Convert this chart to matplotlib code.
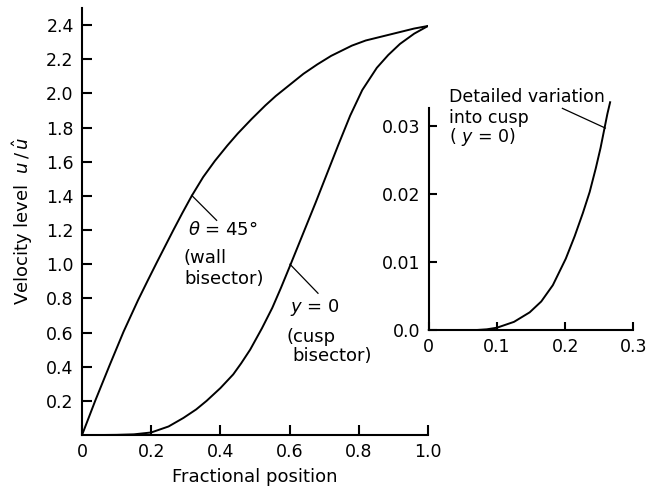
import numpy as np
import matplotlib as mpl

mpl.use("Agg")
import matplotlib.pyplot as plt

# wall bisector, theta = 45 deg
wall_x = [0.0, 0.02, 0.038, 0.08, 0.12, 0.162, 0.19, 0.216, 0.24, 0.264, 0.29, 0.317,
          0.35, 0.384, 0.42, 0.45, 0.49, 0.53, 0.56, 0.60, 0.64, 0.68, 0.72, 0.75,
          0.78, 0.82, 0.86, 0.89, 0.93, 0.96, 1.0]
wall_y = [0.0, 0.105, 0.20, 0.41, 0.605, 0.79, 0.905, 1.01, 1.105, 1.20, 1.30, 1.40,
          1.51, 1.605, 1.695, 1.765, 1.85, 1.93, 1.985, 2.05, 2.115, 2.17, 2.22, 2.25,
          2.28, 2.31, 2.33, 2.345, 2.365, 2.38, 2.395]

# cusp bisector, y = 0
cusp_x = [0.0, 0.05, 0.10, 0.15, 0.20, 0.25, 0.293, 0.33, 0.36, 0.40, 0.437, 0.46,
          0.486, 0.52, 0.55, 0.575, 0.601, 0.625, 0.645, 0.675, 0.707, 0.74, 0.775,
          0.81, 0.852, 0.885, 0.919, 0.96, 1.0]
cusp_y = [0.0, 0.0, 0.001, 0.004, 0.015, 0.05, 0.10, 0.15, 0.20, 0.275, 0.355, 0.42,
          0.50, 0.625, 0.745, 0.862, 0.99, 1.11, 1.21, 1.36, 1.525, 1.695, 1.87,
          2.02, 2.15, 2.225, 2.29, 2.35, 2.395]

# detail near the cusp (inset)
det_x = [0.0, 0.07, 0.085, 0.10, 0.125, 0.148, 0.165, 0.182, 0.201, 0.214, 0.226,
         0.236, 0.245, 0.252, 0.257, 0.262, 0.266]
det_y = [0.0, 0.0, 0.0001, 0.00034, 0.0012, 0.0026, 0.0042, 0.0066, 0.0105, 0.0138,
         0.0172, 0.0203, 0.0238, 0.0268, 0.0293, 0.0318, 0.0335]

main_xticks = [0, 0.2, 0.4, 0.6, 0.8, 1.0]
main_xlabels = ["0", "0.2", "0.4", "0.6", "0.8", "1.0"]
main_yticks = [0.2, 0.4, 0.6, 0.8, 1.0, 1.2, 1.4, 1.6, 1.8, 2.0, 2.2, 2.4]
inset_xticks = [0, 0.1, 0.2, 0.3]
inset_xlabels = ["0", "0.1", "0.2", "0.3"]
inset_yticks = [0, 0.01, 0.02, 0.03]
inset_ylabels = ["0.0", "0.01", "0.02", "0.03"]

plt.rcParams.update({"font.family": "DejaVu Sans", "font.size": 12.5,
                     "mathtext.fontset": "dejavusans"})

fig = plt.figure(figsize=(6.5, 4.93), dpi=100)


def style_axes(ax, ticklen):
    ax.spines["top"].set_visible(False)
    ax.spines["right"].set_visible(False)
    for s in ("left", "bottom"):
        ax.spines[s].set_linewidth(1.5)
    ax.tick_params(direction="in", length=ticklen, width=1.5, pad=6)


# main plot
ax = fig.add_axes([0.1262, 0.1176, 0.5323, 0.8661])
ax.plot(wall_x, wall_y, color="black", lw=1.4)
ax.plot(cusp_x, cusp_y, color="black", lw=1.4)
ax.set_xlim(0, 1.0)
ax.set_ylim(0, 2.5)
ax.set_xticks(main_xticks)
ax.set_xticklabels(main_xlabels)
ax.set_yticks(main_yticks)
ax.set_yticklabels([f"{v:.1f}" for v in main_yticks])
style_axes(ax, 7)
ax.set_xlabel("Fractional position", fontsize=13, labelpad=5)
ax.set_ylabel(r"Velocity level  $u\,/\,\hat{u}$", fontsize=13, labelpad=8)

# labels for the two curves
ax.plot([0.317, 0.389], [1.403, 1.257], color="black", lw=0.9)
ax.text(0.306, 1.198, r"$\theta$ = 45°", va="center", fontsize=13)
ax.text(0.292, 1.034, "(wall", va="center", fontsize=13)
ax.text(0.295, 0.912, "bisector)", va="center", fontsize=13)

ax.plot([0.601, 0.682], [1.0, 0.830], color="black", lw=0.9)
ax.text(0.601, 0.748, r"$y$ = 0", va="center", fontsize=13)
ax.text(0.592, 0.573, "(cusp", va="center", fontsize=13)
ax.text(0.607, 0.462, "bisector)", va="center", fontsize=13)

# inset: detailed variation into the cusp
axi = fig.add_axes([0.6597, 0.3306, 0.3146, 0.4503])
axi.plot(det_x, det_y, color="black", lw=1.4, clip_on=False)
axi.set_xlim(0, 0.3)
axi.set_ylim(0, 0.03265)
axi.set_xticks(inset_xticks)
axi.set_xticklabels(inset_xlabels)
axi.set_yticks(inset_yticks)
axi.set_yticklabels(inset_ylabels)
style_axes(axi, 6)
axi.patch.set_alpha(0)

axi.plot([0.196, 0.259], [0.0326, 0.0297], color="black", lw=0.9, clip_on=False)
axi.text(0.0295, 0.0343, "Detailed variation", va="center", fontsize=12.5)
axi.text(0.0295, 0.0312, "into cusp", va="center", fontsize=12.5)
axi.text(0.0295, 0.0284, r"( $y$ = 0)", va="center", fontsize=12.5)

fig.savefig("out.png", dpi=100)
